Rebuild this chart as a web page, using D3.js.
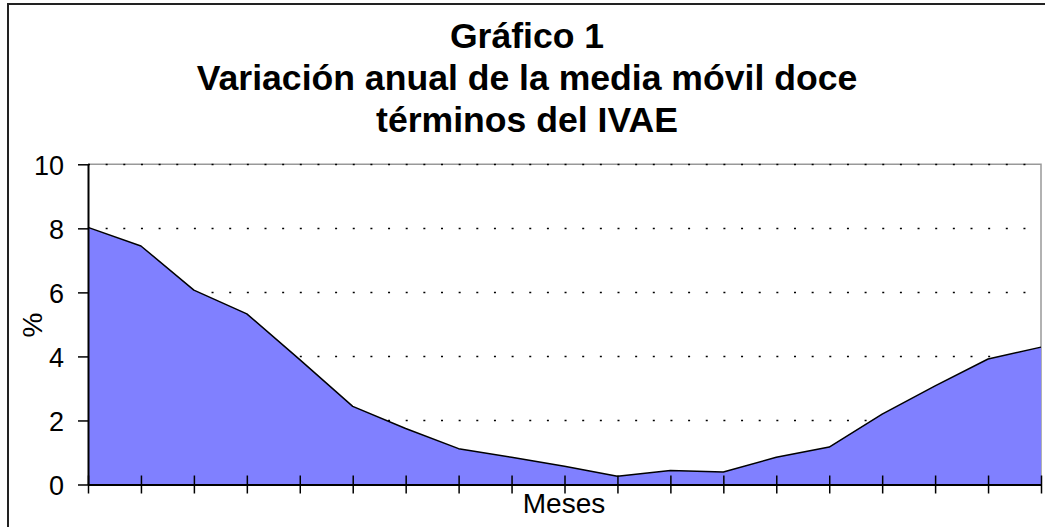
<!DOCTYPE html>
<html>
<head>
<meta charset="utf-8">
<script src="https://cdn.jsdelivr.net/npm/d3@7"></script>
<style>
  body { margin: 0; background: #fff; }
  text { font-family: "Liberation Sans", Arial, sans-serif; fill: #000; }
</style>
</head>
<body>
<svg id="chart" width="1045" height="527"></svg>
<script>
// Data
const categories = ['1', '2', '3', '4', '5', '6', '7', '8', '9', '10',
  '11', '12', '13', '14', '15', '16', '17', '18', '19'];
const values = [8.03, 7.45, 6.07, 5.33, 3.9, 2.44, 1.75, 1.12, 0.85, 0.57,
  0.26, 0.44, 0.39, 0.85, 1.17, 2.2, 3.08, 3.92, 4.29];
const yTicks = [0, 2, 4, 6, 8, 10];
const titleLines = ['Gráfico 1', 'Variación anual de la media móvil doce', 'términos del IVAE'];
const xLabel = 'Meses';
const yLabel = '%';

const svg = d3.select('#chart');
const plot = { left: 88, right: 1041, top: 164.3, bottom: 484.5 };

// Outer frame
svg.append('rect')
  .attr('x', 8).attr('y', 4)
  .attr('width', 1100).attr('height', 600)
  .attr('fill', 'none')
  .attr('stroke', '#222')
  .attr('stroke-width', 2);

// Scales
const x = d3.scalePoint()
  .domain(categories)
  .range([plot.left, plot.right]);

const y = d3.scaleLinear()
  .domain([0, 10])
  .range([plot.bottom, plot.top]);

// Plot area border (top and right, gray)
svg.append('path')
  .attr('d', `M${plot.left},${plot.top}H${plot.right}V${plot.bottom}`)
  .attr('fill', 'none')
  .attr('stroke', '#999')
  .attr('stroke-width', 1.5);

// Dotted gridlines
svg.append('g')
  .selectAll('line')
  .data(yTicks.filter(d => d > 0))
  .enter().append('line')
  .attr('x1', plot.left)
  .attr('x2', plot.right)
  .attr('y1', d => Math.round(y(d)) + 0.5)
  .attr('y2', d => Math.round(y(d)) + 0.5)
  .attr('stroke', '#000')
  .attr('stroke-width', 1.5)
  .attr('stroke-dasharray', `2,${(x.step() / 3 - 2).toFixed(2)}`);

// Area
const area = d3.area()
  .x((d, i) => x(categories[i]))
  .y0(y(0))
  .y1(d => y(d));

const line = d3.line()
  .x((d, i) => x(categories[i]))
  .y(d => y(d));

svg.append('path')
  .datum(values)
  .attr('d', area)
  .attr('fill', '#8080ff');

svg.append('path')
  .datum(values)
  .attr('d', line)
  .attr('fill', 'none')
  .attr('stroke', '#000')
  .attr('stroke-width', 1.5)
  .attr('stroke-linejoin', 'round');

// Y axis
const yAxis = d3.axisLeft(y)
  .tickValues(yTicks)
  .tickSize(10)
  .tickPadding(14)
  .tickSizeOuter(0);

const gy = svg.append('g')
  .attr('transform', `translate(${plot.left},0)`)
  .call(yAxis);
gy.select('.domain').attr('stroke', '#000').attr('stroke-width', 2);
gy.selectAll('.tick line').attr('stroke', '#000').attr('stroke-width', 1.5);
gy.selectAll('.tick text')
  .style('font-size', '27px')
  .attr('dy', '0.36em');

// X axis, ticks crossing the axis line
const xAxis = d3.axisBottom(x)
  .tickSize(8)
  .tickSizeOuter(0)
  .tickFormat('');

const gx = svg.append('g')
  .attr('transform', `translate(0,${plot.bottom})`)
  .call(xAxis);
gx.select('.domain').attr('stroke', '#000').attr('stroke-width', 2);
gx.selectAll('.tick line')
  .attr('y1', -9)
  .attr('y2', 9)
  .attr('stroke', '#000')
  .attr('stroke-width', 1.5);

// Axis labels
svg.append('text')
  .attr('x', 564)
  .attr('y', 513)
  .attr('text-anchor', 'middle')
  .style('font-size', '28px')
  .text(xLabel);

svg.append('text')
  .attr('transform', 'translate(42,325)rotate(-90)')
  .attr('text-anchor', 'middle')
  .style('font-size', '28px')
  .text(yLabel);

// Title
svg.append('g')
  .selectAll('text')
  .data(titleLines)
  .enter().append('text')
  .attr('x', 527)
  .attr('y', (d, i) => 48 + i * 42)
  .attr('text-anchor', 'middle')
  .style('font-size', '35.6px')
  .style('font-weight', 'bold')
  .text(d => d);
</script>
</body>
</html>
